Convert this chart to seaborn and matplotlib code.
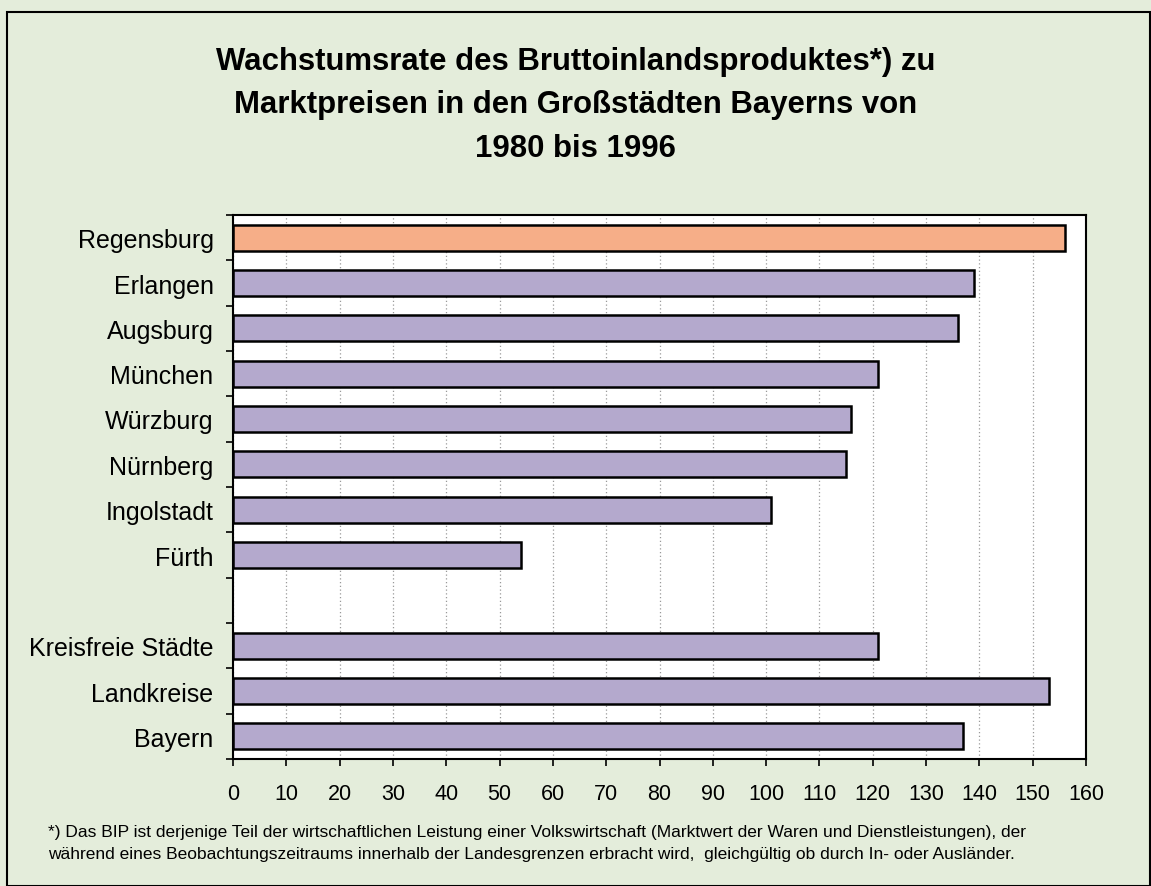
"""Wachstumsrate des BIP in den Großstädten Bayerns."""
import matplotlib.pyplot as plt
import matplotlib.patches as mpatches
import numpy as np
import pandas as pd
import seaborn as sns

cities = [
    "Regensburg", "Erlangen", "Augsburg", "München", "Würzburg", "Nürnberg",
    "Ingolstadt", "Fürth", " ", "Kreisfreie Städte", "Landkreise", "Bayern",
]
growth = [156, 139, 136, 121, 116, 115, 101, 54, np.nan, 121, 153, 137]
bar_colors = ["#f6ae88"] + ["#b4a9cd"] * 11
xticks = list(range(0, 161, 10))

title = ("Wachstumsrate des Bruttoinlandsproduktes*) zu\n"
         "Marktpreisen in den Großstädten Bayerns von\n"
         "1980 bis 1996")
footnote = ("*) Das BIP ist derjenige Teil der wirtschaftlichen Leistung einer Volkswirtschaft "
            "(Marktwert der Waren und Dienstleistungen), der\n"
            "während eines Beobachtungszeitraums innerhalb der Landesgrenzen erbracht wird,  "
            "gleichgültig ob durch In- oder Ausländer.")

sns.set_theme(style="white")
plt.rcParams["font.family"] = ["Liberation Sans", "DejaVu Sans"]
plt.rcParams["text.color"] = "black"
plt.rcParams["xtick.color"] = "black"
plt.rcParams["ytick.color"] = "black"

bg = "#e4eddb"
fig = plt.figure(figsize=(11.51, 8.87), dpi=100, facecolor=bg)
fig.patches.append(mpatches.Rectangle((7 / 1151, 0), 1 - 8 / 1151, 1 - 13 / 887,
                                      transform=fig.transFigure, fill=False,
                                      edgecolor="black", lw=1.5))
ax = fig.add_axes([233 / 1151, 1 - 760 / 887, (1086 - 233) / 1151, (760 - 216) / 887])

df = pd.DataFrame({"city": cities, "growth": growth})
sns.barplot(data=df, y="city", x="growth", hue="city", palette=bar_colors,
            order=cities, hue_order=cities, legend=False, width=0.58,
            saturation=1, edgecolor="black", linewidth=1.8, ax=ax)

ax.set_xlim(0, 160)
ax.set_ylim(len(cities) - 0.5, -0.5)
ax.set_xticks(xticks)
ax.set_xticklabels([str(t) for t in xticks], fontsize=15.5)
ax.set_xlabel("")
ax.set_ylabel("")
ax.tick_params(axis="y", which="major", length=0, pad=14, labelsize=18)
ax.set_yticks(np.arange(-0.5, len(cities), 1.0), minor=True)
ax.tick_params(axis="y", which="minor", left=True, length=5, width=1.2, color="black")
ax.tick_params(axis="x", bottom=True, length=5, width=1.2, color="black", pad=12)
ax.set_facecolor("white")
ax.grid(axis="x", linestyle=(0, (1, 2)), color="#999999", lw=0.9)
ax.set_axisbelow(True)
for s in ax.spines.values():
    s.set_visible(True)
    s.set_color("black")
    s.set_linewidth(1.5)

fig.text(0.5, 1 - 47 / 887, title, ha="center", va="top", fontsize=22.4,
         fontweight="bold", linespacing=1.58)
fig.text(48 / 1151, 1 - 825 / 887, footnote, ha="left", va="top", fontsize=12.5,
         linespacing=1.6)

fig.savefig("out.png", dpi=100, facecolor=bg)
